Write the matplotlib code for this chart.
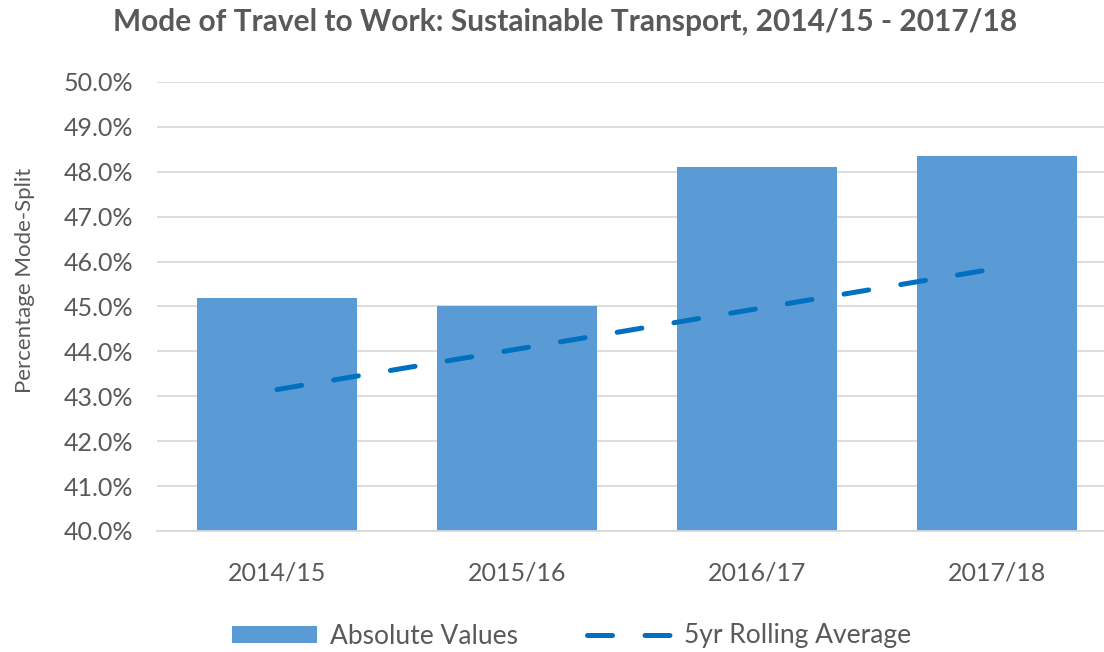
import matplotlib
matplotlib.use('Agg')
import matplotlib.pyplot as plt
from matplotlib.ticker import FuncFormatter

plt.rcParams['font.family'] = ['Lato', 'DejaVu Sans']

# data
years = ['2014/15', '2015/16', '2016/17', '2017/18']
absolute_values = [45.2, 45.0, 48.1, 48.35]
rolling_avg = [43.15, 44.05, 44.95, 45.85]

text_col = '#595959'
bar_col = '#5B9BD5'
line_col = '#0070C0'
grid_col = '#D9D9D9'

fig = plt.figure(figsize=(11.04, 6.52), dpi=100)
ax = fig.add_axes([157/1104, 121/652, 960/1104, 449/652])

x = list(range(len(years)))
bars = ax.bar(x, absolute_values, width=0.667, color=bar_col, label='Absolute Values', zorder=2)
line, = ax.plot(x, rolling_avg, color=line_col, linewidth=3.6, linestyle=(0, (5, 6.5)),
                dash_capstyle='round', label='5yr Rolling Average', zorder=3)

ax.set_xlim(-0.5, 3.5)
ax.set_ylim(40, 50)
ax.set_yticks([40 + i for i in range(11)])
ax.yaxis.set_major_formatter(FuncFormatter(lambda v, p: '{:.1f}%'.format(v)))
ax.set_xticks(x)
ax.set_xticklabels(years)

ax.grid(axis='y', color=grid_col, linewidth=1.3, zorder=0)
ax.set_axisbelow(True)
for s in ['top', 'right', 'left']:
    ax.spines[s].set_visible(False)
ax.spines['bottom'].set_color(grid_col)
ax.spines['bottom'].set_linewidth(1.3)
ax.tick_params(axis='both', length=0, labelsize=18, labelcolor=text_col)
ax.tick_params(axis='x', pad=22)
ax.tick_params(axis='y', pad=17)

fig.text(25/1104, 1 - 280/652, 'Percentage Mode-Split', rotation=90, ha='center', va='center',
         fontsize=16, color=text_col)
fig.text(565/1104, 1 - 22/652, 'Mode of Travel to Work: Sustainable Transport, 2014/15 - 2017/18',
         ha='center', va='center', fontsize=21.5, fontweight='bold', color=text_col)

leg = fig.legend([bars, line], ['Absolute Values', '5yr Rolling Average'], loc='center',
                 bbox_to_anchor=(572/1104, 1 - 636/652), ncol=2, frameon=False,
                 fontsize=19, handlelength=3.2, handleheight=0.6, handletextpad=0.5,
                 columnspacing=2.6)
for t in leg.get_texts():
    t.set_color(text_col)

fig.savefig('out.png', dpi=100)
